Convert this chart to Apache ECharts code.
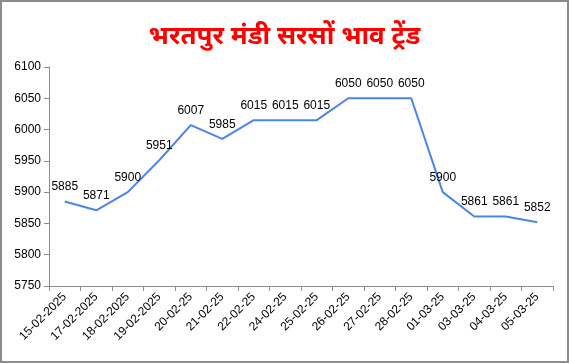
<!DOCTYPE html>
<html><head><meta charset="utf-8">
<script src="https://cdn.jsdelivr.net/npm/echarts@6/dist/echarts.min.js"></script>
<style>html,body{margin:0;padding:0;background:#fff}#c{width:569px;height:363px;box-sizing:border-box;border:2px solid #8c8c8c}</style>
</head><body><div id="c"></div>
<script>
const categories = ['15-02-2025','17-02-2025','18-02-2025','19-02-2025','20-02-25','21-02-25','22-02-25','24-02-25','25-02-25','26-02-25','27-02-25','28-02-25','01-03-25','03-03-25','04-03-25','05-03-25'];
const prices = [5885,5871,5900,5951,6007,5985,6015,6015,6015,6050,6050,6050,5900,5861,5861,5852];
const titleText = 'भरतपुर मंडी सरसों भाव ट्रेंड';
const yMin = 5750, yMax = 6100, yStep = 50;

const chart = echarts.init(document.getElementById('c'), null, {renderer:'canvas'});
chart.setOption({
  animation:false,
  textStyle:{fontFamily:'Liberation Sans, Arial, sans-serif'},
  title:{text:titleText,left:'center',top:17,textStyle:{color:'#ff0000',fontSize:26,fontWeight:'bold',fontFamily:'Noto Sans, sans-serif'}},
  grid:{left:47,right:14,top:65,bottom:75},
  xAxis:{type:'category',data:categories,boundaryGap:true,
    axisLine:{lineStyle:{color:'#8c8c8c'}},
    axisTick:{show:true,alignWithLabel:false,length:5,lineStyle:{color:'#8c8c8c'}},
    axisLabel:{rotate:45,color:'#000',fontSize:12,margin:9,interval:0}},
  yAxis:{type:'value',min:yMin,max:yMax,interval:yStep,
    axisLine:{show:true,lineStyle:{color:'#8c8c8c'}},
    axisTick:{show:true,length:5,lineStyle:{color:'#8c8c8c'}},
    splitLine:{show:false},
    axisLabel:{color:'#000',fontSize:12,margin:8,formatter:v=>String(v)}},
  series:[{type:'line',data:prices,symbol:'circle',symbolSize:1,showSymbol:true,
    itemStyle:{color:'#4a86e8',opacity:0},
    lineStyle:{color:'#4a86e8',width:2},
    label:{show:true,position:'top',distance:8,color:'#000',fontSize:12,opacity:1}}]
});
</script></body></html>
